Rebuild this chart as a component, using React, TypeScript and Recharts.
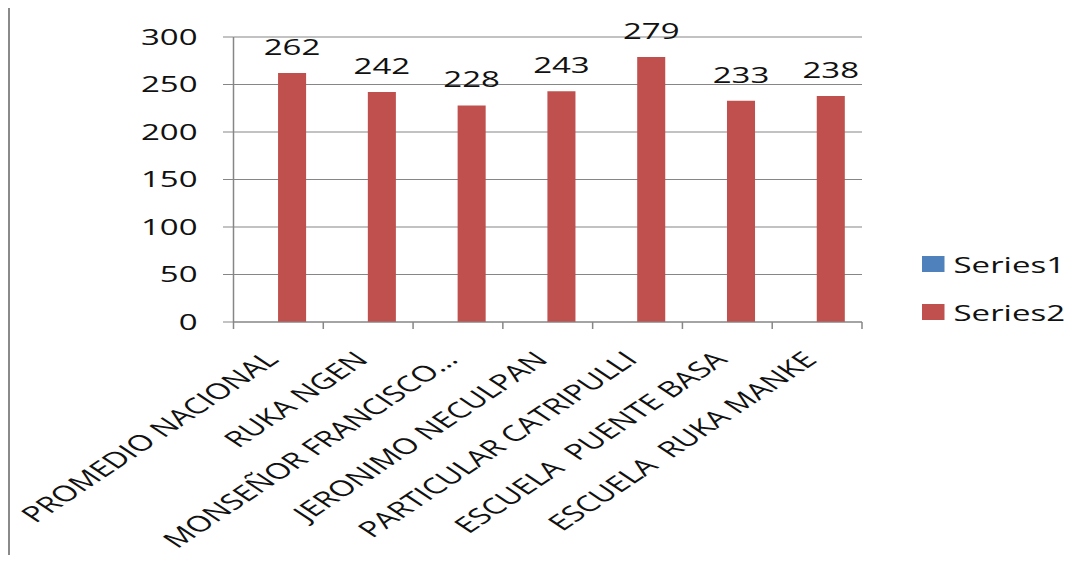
import { BarChart, Bar, XAxis, YAxis, CartesianGrid, Legend, LabelList } from "recharts";

const schools = [
  "PROMEDIO NACIONAL",
  "RUKA NGEN",
  "MONSEÑOR FRANCISCO…",
  "JERONIMO NECULPAN",
  "PARTICULAR CATRIPULLI",
  "ESCUELA  PUENTE BASA",
  "ESCUELA  RUKA MANKE",
];
const series1 = [null, null, null, null, null, null, null];
const series2 = [262, 242, 228, 243, 279, 233, 238];
const yTicks = [0, 50, 100, 150, 200, 250, 300];

const data = schools.map((name, i) => ({ name, s1: series1[i], s2: series2[i] }));

const FONT = "'Open Sans', sans-serif";
const AXIS = "#868686";
const STRETCH = 1.5; // the source picture is stretched sideways

function CategoryTick(props: any) {
  const { x, y, payload, index, visibleTicksCount } = props;
  const half = payload.offset ?? 30;
  const lx = x + 1;
  const ly = y + 39;
  return (
    <g>
      <line x1={x - half} y1={y} x2={x - half} y2={y + 7} stroke={AXIS} />
      {index === visibleTicksCount - 1 && (
        <line x1={x + half} y1={y} x2={x + half} y2={y + 7} stroke={AXIS} />
      )}
      <text
        x={lx}
        y={ly}
        transform={`rotate(-45, ${lx}, ${ly})`}
        textAnchor="end"
        fontFamily={FONT}
        fontSize={22}
        fill="#111"
        style={{ whiteSpace: "pre" }}
      >
        {payload.value}
      </text>
    </g>
  );
}

function LegendBox({ payload }: any) {
  return (
    <div style={{ fontFamily: FONT, fontSize: 22, color: "#111" }}>
      {(payload || []).map((entry: any) => (
        <div key={entry.value} style={{ display: "flex", alignItems: "center", height: 48 }}>
          <span
            style={{
              display: "inline-block",
              width: 15,
              height: 16,
              background: entry.color,
              marginRight: 6,
            }}
          />
          {entry.value}
        </div>
      ))}
    </div>
  );
}

export default function App() {
  return (
    <div
      style={{
        width: 1080,
        height: 557,
        boxSizing: "border-box",
        borderLeft: "2px solid #8a8a8a",
        borderTop: "2px solid #8a8a8a",
        marginTop: -2,
        marginBottom: -8,
        background: "#fff",
      }}
    >
      <div style={{ width: 718, height: 547, transform: `scaleX(${STRETCH})`, transformOrigin: "0 0" }}>
        <BarChart
          width={718}
          height={547}
          data={data}
          margin={{ top: 29, right: 150, bottom: 0, left: 89 }}
          barGap={0}
          barSize={18.7}
        >
          <CartesianGrid vertical={false} stroke={AXIS} />
          <XAxis
            dataKey="name"
            interval={0}
            height={233}
            axisLine={{ stroke: AXIS }}
            tickLine={false}
            tickSize={0}
            tickMargin={0}
            tick={<CategoryTick />}
          />
          <YAxis
            width={60}
            domain={[0, 300]}
            ticks={yTicks}
            axisLine={{ stroke: AXIS }}
            tickLine={{ stroke: AXIS }}
            tickSize={7}
            tickMargin={17}
            tick={{ fill: "#111", fontSize: 22, fontFamily: FONT }}
          />
          <Legend
            layout="vertical"
            align="center"
            verticalAlign="middle"
            wrapperStyle={{ left: 608, top: 232, width: 110 }}
            content={<LegendBox />}
          />
          <Bar dataKey="s1" name="Series1" fill="#4F81BD" isAnimationActive={false} />
          <Bar dataKey="s2" name="Series2" fill="#C0504D" isAnimationActive={false}>
            <LabelList
              dataKey="s2"
              position="top"
              offset={18}
              fill="#111"
              fontSize={22}
              fontFamily={FONT}
            />
          </Bar>
        </BarChart>
      </div>
    </div>
  );
}
